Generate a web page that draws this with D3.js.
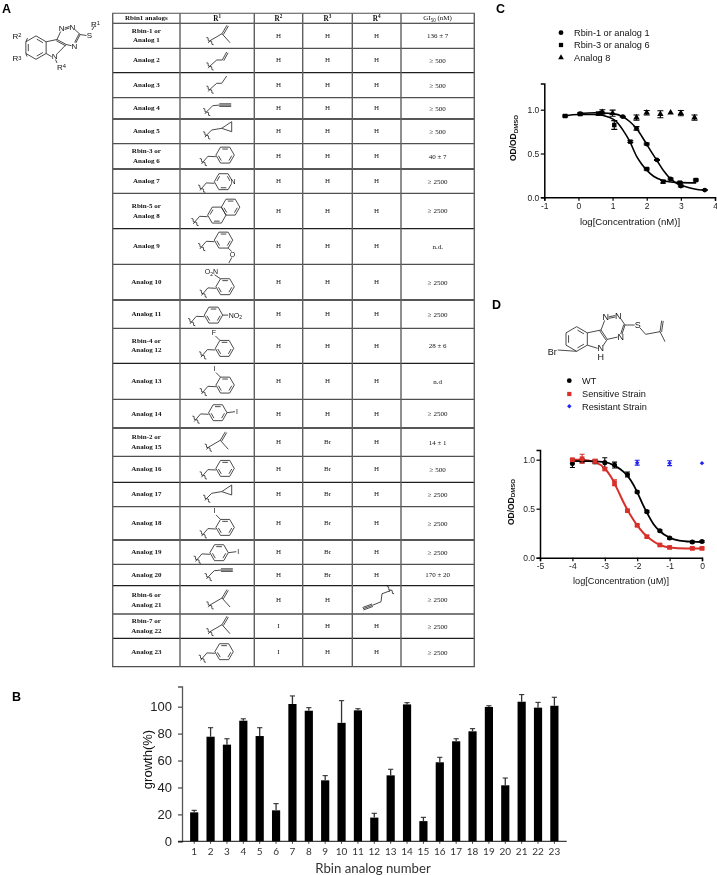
<!DOCTYPE html>
<html>
<head>
<meta charset="utf-8">
<script src="https://cdn.jsdelivr.net/npm/d3@7/dist/d3.min.js"></script>
<style>
html,body{margin:0;padding:0;background:#fff;overflow:hidden}
svg{display:block;filter:blur(0.4px)}
text{fill:#111}
</style>
</head>
<body>
<svg id="fig" width="717" height="875"></svg>
<script>
// ---------- DATA ----------
const analogNames = [["Rbin-1 or","Analog 1"],["Analog 2"],["Analog 3"],["Analog 4"],["Analog 5"],["Rbin-3 or","Analog 6"],["Analog 7"],["Rbin-5 or","Analog 8"],["Analog 9"],["Analog 10"],["Analog 11"],["Rbin-4 or","Analog 12"],["Analog 13"],["Analog 14"],["Rbin-2 or","Analog 15"],["Analog 16"],["Analog 17"],["Analog 18"],["Analog 19"],["Analog 20"],["Rbin-6 or","Analog 21"],["Rbin-7 or","Analog 22"],["Analog 23"]];
const r1Groups = ["methallyl","allyl","propyl","propargyl","cyclopropyl","benzyl","pyridyl","naphthyl","oMe3","no2ortho","no2para","fOrtho","iOrtho","iPara","methallyl","benzyl","cyclopropyl","iOrtho","iPara","propargyl","methallyl","methallyl","benzyl"];
const r2Values = ["H","H","H","H","H","H","H","H","H","H","H","H","H","H","H","H","H","H","H","H","H","I","I"];
const r3Values = ["H","H","H","H","H","H","H","H","H","H","H","H","H","H","Br","Br","Br","Br","Br","Br","H","H","H"];
const r4Values = ["H","H","H","H","H","H","H","H","H","H","H","H","H","H","H","H","H","H","H","H","propargyl","H","H"];
const gi50Values = ["136 ± 7","≥ 500","≥ 500","≥ 500","≥ 500","40 ± 7","≥ 2500","≥ 2500","n.d.","≥ 2500","≥ 2500","28 ± 6","n.d","≥ 2500","14 ± 1","≥ 500","≥ 2500","≥ 2500","≥ 2500","170 ± 20","≥ 2500","≥ 2500","≥ 2500"];

const barLabels = d3.range(1,24).map(String);
const growthValues = [21.5,77.7,71.8,89.6,78.2,23,102,97,45.3,88,97.3,17.6,49,101.7,15,58.7,74.3,81.7,99.8,41.6,103.7,99.3,100.7];
const growthErrors = [1.5,6.7,4.4,1.4,6.2,5,6,2.3,3.5,16.5,1.2,3.2,4.5,1.3,2.8,3.7,1.9,2,0.9,5.4,5.3,3.9,6.3];

const cRbin1 = [[0.05,.955,.01],[0.68,.966,.01],[1.3,.92,.005],[1.7,.787,.02],[2,.608,.01],[2.3,.426,.005],[2.7,.209,.01],[3,.129,.01],[3.7,.083,.005]];
const cRbin3 = [[-0.39,.928,.01],[0.05,.95,.01],[0.58,.955,.015],[1.05,.825,.05],[1.52,.635,.01],[2,.323,.01],[2.48,.178,.015],[2.97,.167,.01],[3.44,.197,.01]];
const cAnalog8 = [[0.7,.97,.03],[1,.96,.035],[1.7,.91,.03],[2,.965,.025],[2.4,.948,.04],[2.7,.965,0],[3,.96,.03],[3.4,.91,.03]];
const cFitRbin1 = [[0,.955],[0.5,.965],[1,.955],[1.3,.92],[1.5,.865],[1.7,.785],[1.85,.7],[2,.605],[2.15,.51],[2.3,.42],[2.5,.3],[2.7,.21],[2.9,.155],[3.1,.125],[3.4,.095],[3.7,.08]];
const cFitRbin3 = [[-0.4,.93],[0,.945],[0.5,.945],[0.9,.915],[1.1,.87],[1.3,.77],[1.5,.64],[1.7,.47],[1.85,.38],[2,.31],[2.2,.24],[2.45,.195],[2.7,.175],[3,.167],[3.45,.165]];
const cLegend = ["Rbin-1 or analog 1","Rbin-3 or analog 6","Analog 8"];

const dWT = [[-4,.96,.04],[-3.7,.99,.02],[-3.3,.98,.02],[-3,.97,.05],[-2.7,.945,.03],[-2.3,.85,.025],[-2,.67,.01],[-1.7,.47,.01],[-1.3,.275,.01],[-1,.2,.01],[-0.3,.16,.01],[0,.165,.01]];
const dSensitive = [[-4,1,.01],[-3.7,1.01,.045],[-3.3,.985,.02],[-3,.905,.01],[-2.7,.765,.03],[-2.3,.48,.01],[-2,.33,.01],[-1.7,.215,.01],[-1.3,.13,.01],[-1,.105,.01],[-0.3,.095,.01],[0,.095,.01]];
const dResistant = [[-2,.97,.025],[-1,.965,.025],[0,.965,0]];
const dFitWT = [[-4,.985],[-3.5,.985],[-3,.975],[-2.7,.94],[-2.4,.87],[-2.2,.79],[-2,.67],[-1.85,.56],[-1.7,.46],[-1.5,.345],[-1.3,.27],[-1,.205],[-0.7,.175],[-0.3,.163],[0,.16]];
const dFitSensitive = [[-4,1],[-3.7,1],[-3.3,.975],[-3,.91],[-2.8,.82],[-2.6,.69],[-2.4,.55],[-2.2,.43],[-2,.33],[-1.8,.25],[-1.6,.19],[-1.3,.13],[-1,.105],[-0.5,.095],[0,.095]];
const dLegend = ["WT","Sensitive Strain","Resistant Strain"];

// ---------- LAYOUT ----------
const SANS = "'Liberation Sans',Arial,sans-serif", SERIF = "'Liberation Serif','Times New Roman',serif";
const svg = d3.select("#fig");
function T(g,x,y,s,o={}){
  const t=g.append("text").attr("x",x).attr("y",y).attr("dy",".35em")
    .attr("font-family",o.f||SANS).attr("font-size",o.s||9).attr("text-anchor",o.a||"middle")
    .attr("font-weight",o.w||"normal");
  if(o.c) t.style("fill",o.c);
  if(o.r!=null) t.attr("transform",`rotate(${o.r} ${x} ${y})`);
  (Array.isArray(s)?s:[[s,0]]).forEach(([str,sh],i,arr)=>{
    const ts=t.append("tspan").text(str);
    const prev=i?arr[i-1][1]:0;
    if(sh!==prev) ts.attr("dy",(sh-prev)+"em");
    if(sh) ts.attr("font-size",(o.s||9)*.72);
  });
  return t;
}
T(svg,2,9,"A",{a:"start",w:"bold",s:12.5,c:"#000"});
T(svg,12,697,"B",{a:"start",w:"bold",s:12.5,c:"#000"});
T(svg,496,9,"C",{a:"start",w:"bold",s:12.5,c:"#000"});
T(svg,492,305,"D",{a:"start",w:"bold",s:12.5,c:"#000"});

// ---------- chemistry helpers ----------
const BOND="#2a2a2a";
function L(g,pts,w=.85){g.append("path").attr("d",d3.line()(pts)).attr("fill","none").attr("stroke",BOND).attr("stroke-width",w);}
function wiggle(g,x,y){
  g.append("path").attr("d",`M${x-3.6},${y-3.2}q2.4,-.2 1.8,1.8t1.8,1.8t1.8,1.8t1.8,1.8`).attr("fill","none").attr("stroke",BOND).attr("stroke-width",.85);
  L(g,[[x-1.8,y+2.2],[x,y]]);
}
function ring(g,cx,cy,r=9.2,doubles=[0,2,4],pointy=false){
  const a0=pointy?-90:0;
  const v=d3.range(6).map(i=>{const a=(a0+60*i)*Math.PI/180;return [cx+r*Math.cos(a),cy+r*Math.sin(a)];});
  d3.range(6).forEach(i=>L(g,[v[i],v[(i+1)%6]]));
  doubles.forEach(i=>{
    const p=v[i],q=v[(i+1)%6],k=.76;
    const pi=[cx+(p[0]-cx)*k,cy+(p[1]-cy)*k],qi=[cx+(q[0]-cx)*k,cy+(q[1]-cy)*k];
    const tr=(A,B,t)=>[A[0]+(B[0]-A[0])*t,A[1]+(B[1]-A[1])*t];
    L(g,[tr(pi,qi,.1),tr(pi,qi,.9)]);
  });
  return v;
}
function doubleBond(g,a,b,o=1.6){
  const dx=b[0]-a[0],dy=b[1]-a[1],l=Math.hypot(dx,dy),nx=-dy/l*o,ny=dx/l*o;
  L(g,[a,b]);L(g,[[a[0]+nx,a[1]+ny],[b[0]+nx,b[1]+ny]]);
}
function tripleBond(g,a,b,o=1.3){
  const dx=b[0]-a[0],dy=b[1]-a[1],l=Math.hypot(dx,dy),nx=-dy/l*o,ny=dx/l*o;
  L(g,[a,b]);L(g,[[a[0]+nx,a[1]+ny],[b[0]+nx,b[1]+ny]]);L(g,[[a[0]-nx,a[1]-ny],[b[0]-nx,b[1]-ny]]);
}
const R=9.2;
function benzylBase(g,x,y){
  wiggle(g,x,y);
  const P1=[x+4.6,y-5.4],P2=[x+12.6,y-5];
  L(g,[[x,y],P1,P2]);
  return [P2[0]+R,P2[1]-1.6];
}
const drawGroup={
  methallyl(g,x,y){wiggle(g,x,y);const c=[x+12,y-7];L(g,[[x,y],c]);doubleBond(g,c,[x+17,y-15.5]);L(g,[c,[x+20,y+2]]);},
  allyl(g,x,y){wiggle(g,x,y);const a=[x+6.7,y-6],b=[x+12.3,y-6];L(g,[[x,y],a,b]);doubleBond(g,b,[x+16.7,y-14]);},
  propyl(g,x,y){wiggle(g,x,y);L(g,[[x,y],[x+6.7,y-6],[x+11.7,y-6],[x+16.7,y-13.3]]);},
  propargyl(g,x,y){wiggle(g,x,y);const a=[x+6,y-6],b=[x+12.6,y-6.6];L(g,[[x,y],a,b]);tripleBond(g,b,[x+24.5,y-6.6]);},
  cyclopropyl(g,x,y){wiggle(g,x,y);const a=[x+5,y-5],b=[x+15,y-6.7],c=[x+25,y-13.3],d=[x+25,y-3.3];L(g,[[x,y],a,b]);L(g,[b,c,d,b]);},
  benzyl(g,x,y){const [cx,cy]=benzylBase(g,x,y);ring(g,cx,cy);},
  pyridyl(g,x,y){const [cx,cy]=benzylBase(g,x,y);ring(g,cx,cy,R,[1,3,5]);
    g.append("circle").attr("cx",cx+R).attr("cy",cy).attr("r",2.6).attr("fill","#fff");T(g,cx+R+.3,cy,"N",{s:7});},
  naphthyl(g,x,y){const [cx,cy]=benzylBase(g,x,y);ring(g,cx,cy,R,[1,3]);ring(g,cx+1.5*R,cy-.866*R,R,[0,2,4]);},
  oMe3(g,x,y){const [cx,cy]=benzylBase(g,x,y);const v=ring(g,cx,cy);
    const o=[v[1][0]+4.4,v[1][1]+6.4];L(g,[v[1],[o[0]-.8,o[1]-3]]);T(g,o[0],o[1],"O",{s:7});L(g,[[o[0]-.7,o[1]+3],[o[0]-3.6,o[1]+8.4]]);},
  no2ortho(g,x,y){const [cx,cy]=benzylBase(g,x,y);const v=ring(g,cx,cy);L(g,[v[4],[v[4][0]-6,v[4][1]-4]]);
    T(g,v[4][0]-9,v[4][1]-7,[["O",0],["2",.3],["N",0]],{s:7});},
  no2para(g,x,y){const [cx,cy]=benzylBase(g,x,y);const v=ring(g,cx,cy);L(g,[v[0],[v[0][0]+5.5,v[0][1]]]);
    T(g,v[0][0]+6,v[0][1],[["NO",0],["2",.3]],{s:7,a:"start"});},
  fOrtho(g,x,y){const [cx,cy]=benzylBase(g,x,y);const v=ring(g,cx,cy);L(g,[v[4],[v[4][0]-4.5,v[4][1]-4.5]]);T(g,v[4][0]-6,v[4][1]-8,"F",{s:7});},
  iOrtho(g,x,y){const [cx,cy]=benzylBase(g,x,y);const v=ring(g,cx,cy);L(g,[v[4],[v[4][0]-4.5,v[4][1]-4.5]]);T(g,v[4][0]-6,v[4][1]-9,"I",{s:7});},
  iPara(g,x,y){const [cx,cy]=benzylBase(g,x,y);const v=ring(g,cx,cy);L(g,[v[0],[v[0][0]+8,v[0][1]-1]]);T(g,v[0][0]+10,v[0][1]-1,"I",{s:7});}
};

// ---------- scaffold, panel A ----------
(function(){
  const g=svg.append("g");
  const c=[36,47.6],r=11.7,v=ring(g,c[0],c[1],r,[0,2,4],true);
  const tr=v[1],br=v[2];
  const a=[57,39.5],d=[66.2,44.5],n1=[61.7,28.5],n2=[72.5,27],c3=[80.2,34.5],n4=[74.5,46],N=[54.6,56.5];
  L(g,[tr,a]);doubleBond(g,a,d,1.4);
  L(g,[a,[n1[0]-1,n1[1]+3]]);L(g,[[n1[0]+3,n1[1]-.5],[n2[0]-3,n2[1]-.5]]);L(g,[[n1[0]+3,n1[1]+1],[n2[0]-3,n2[1]+1]]);
  L(g,[[n2[0]+2.4,n2[1]+2.6],c3]);doubleBond(g,c3,[n4[0]+1.3,n4[1]-3],1.3);
  L(g,[[n4[0]-3,n4[1]-.3],d]);
  L(g,[br,[N[0]-3,N[1]+.2]]);L(g,[[N[0]+2.4,N[1]-2.6],d]);
  L(g,[c3,[86.5,35.5]]);L(g,[[92,30],[94.5,26]]);
  L(g,[v[5],[27.5,38]]);L(g,[v[4],[27,56.5]]);L(g,[[55.5,59.5],[57,63]]);
  const s=8;
  T(g,n1[0],n1[1],"N",{s});T(g,n2[0],n2[1],"N",{s});T(g,n4[0],n4[1],"N",{s});T(g,N[0],N[1],"N",{s});
  T(g,89.5,35,"S",{s});
  T(g,95.5,24,[["R",0],["1",-.3]],{s});
  T(g,17,36,[["R",0],["2",-.3]],{s});
  T(g,17,58.5,[["R",0],["3",-.3]],{s});
  T(g,61.5,67,[["R",0],["4",-.3]],{s});
})();

// ---------- table ----------
const colEdges=[112.7,180,254.3,302.7,352.3,401,474.3];
const rowEdges=[13.3,23.3,48.3,72.7,97.7,119,143.7,169,193.3,228.7,264.3,300,328.3,363.3,399.3,428,456.3,482.3,506.7,540,564.3,585.7,614,638.3,666.7];
const r1Anchors=[[210,40.7],[210,66],[210,89.3],[206.7,111.7],[206.7,135],[203.3,161.7],[201.7,188.3],[195,221.7],[201.7,246.7],[203.3,293.3],[191.7,321.7],[202.7,355],[203.3,391.7],[196,419.3],[208.3,447.3],[203.3,475],[206.7,498.3],[203.3,534],[197.3,559.3],[208.3,576.7],[210,605],[210,631.7],[202.3,658.3]];
const tbl=svg.append("g");
const colMid=i=>(colEdges[i]+colEdges[i+1])/2;
const rowMid=i=>(rowEdges[i+1]+rowEdges[i+2])/2-.6;
rowEdges.forEach((y,i)=>tbl.append("line").attr("x1",colEdges[0]-.7).attr("x2",colEdges[6]+.7).attr("y1",y).attr("y2",y).attr("stroke",i%2?"#1f1f1f":"#505050").attr("stroke-width",i<2?1.1:1.3));
colEdges.forEach((x,i)=>tbl.append("line").attr("x1",x).attr("x2",x).attr("y1",rowEdges[0]).attr("y2",rowEdges[24]).attr("stroke","#5f5f5f").attr("stroke-width",1.4));
const hy=18;
T(tbl,colMid(0),hy,"Rbin1 analogs",{f:SERIF,s:7,w:"bold"});
["R","R","R","R"].forEach((h,i)=>T(tbl,colMid(i+1),hy,[[h,0],[String(i+1),-.4]],{f:SERIF,s:7.2,w:"bold"}));
T(tbl,colMid(5),hy,[["GI",0],["50",.3],[" (nM)",0]],{f:SERIF,s:7});
analogNames.forEach((n,i)=>{
  const m=rowMid(i);
  n.forEach((s,j)=>T(tbl,colMid(0),m+(j-(n.length-1)/2)*9.6,s,{f:SERIF,s:7,w:"bold"}));
  drawGroup[r1Groups[i]](tbl,r1Anchors[i][0],r1Anchors[i][1]);
  T(tbl,colMid(2),m,r2Values[i],{f:SERIF,s:7});
  T(tbl,colMid(3),m,r3Values[i],{f:SERIF,s:7});
  if(r4Values[i]==="H") T(tbl,colMid(4),m,"H",{f:SERIF,s:7});
  T(tbl,colMid(5),m+.5,gi50Values[i],{f:SERIF,s:7});
});
// R4 propargyl drawn pointing left, row 21
(function(){
  const i=r4Values.indexOf("propargyl");
  const m=rowMid(i),g=tbl,x=390,y=m-8.5;
  L(g,[[x,y],[x-8,y+3],[x-9,y+11],[x-17.5,y+14.5]]);
  tripleBond(g,[x-17.5,y+14.5],[x-27,y+18]);
  wiggle(g,x+.5,y-1);
})();

// ---------- panel B ----------
const xB=d3.scaleBand().domain(barLabels).range([181.93,566.67]).padding(.5);
const yB=d3.scaleLinear().domain([0,100]).range([841.3,706.7]);
const gB=svg.append("g");
gB.selectAll("rect").data(barLabels).join("rect")
  .attr("x",d=>xB(d)).attr("width",xB.bandwidth())
  .attr("y",(d,i)=>yB(growthValues[i])).attr("height",(d,i)=>yB(0)-yB(growthValues[i]))
  .attr("fill","#000");
barLabels.forEach((d,i)=>{
  const x=xB(d)+xB.bandwidth()/2,yt=yB(growthValues[i]+growthErrors[i]);
  gB.append("line").attr("x1",x).attr("x2",x).attr("y1",yB(growthValues[i])).attr("y2",yt).attr("stroke","#333").attr("stroke-width",1.3);
  gB.append("line").attr("x1",x-2.6).attr("x2",x+2.6).attr("y1",yt).attr("y2",yt).attr("stroke","#333").attr("stroke-width",1.1);
});
const axB=gB.append("g").attr("transform","translate(182,0)")
  .call(d3.axisLeft(yB.copy().domain([0,115]).range([841.3,686.5])).tickValues([0,20,40,60,80,100]).tickSize(4).tickPadding(6));
axB.selectAll("text").attr("font-family",SANS).attr("font-size",13).style("fill","#222");
axB.selectAll("path,line").attr("stroke","#555").attr("stroke-width",1.3);
const axBx=gB.append("g").attr("transform","translate(0,841.3)")
  .call(d3.axisBottom(xB).tickSize(2.5).tickPadding(4.5));
axBx.select("path").attr("d","M178,0H566.7").attr("stroke","#111").attr("stroke-width",1);
axBx.selectAll("line").attr("stroke","#111").attr("stroke-width",.8);
axBx.selectAll("text").attr("font-family","Lato,sans-serif").attr("font-size",10).style("fill","#333");
T(gB,147,759.5,"growth(%)",{s:13,r:-90});
T(gB,373,868,"Rbin analog number",{f:"Lato,sans-serif",s:13.2,c:"#333"});

// ---------- dose-response helper ----------
function axes(g,x,y,xTicks,yTicks){
  const ax=g.append("g").attr("transform",`translate(0,${y.range()[0]})`).call(d3.axisBottom(x).tickValues(xTicks).tickFormat(d3.format("d")).tickSize(3.5).tickPadding(2));
  const ay=g.append("g").attr("transform",`translate(${x.range()[0]},0)`).call(d3.axisLeft(y).tickValues(yTicks).tickFormat(d3.format(".1f")).tickSize(3.5).tickPadding(1.5));
  [ax,ay].forEach(a=>{
    a.selectAll("path").attr("stroke","#000").attr("stroke-width",1.5);
    a.selectAll("line").attr("stroke","#000").attr("stroke-width",1.2);
    a.selectAll("text").attr("font-family",SANS).attr("font-size",8.5).style("fill","#222");
  });
  ax.selectAll("text").text(d=>String(d));
}
function series(g,x,y,pts,sym,size,col,capW=6,rot=0){
  pts.forEach(([px,py,e])=>{
    if(e>0){
      const X=x(px),a=y(py+e),b=y(py-e);
      g.append("path").attr("d",`M${X-capW/2},${a}H${X+capW/2}M${X},${a}V${b}M${X-capW/2},${b}H${X+capW/2}`).attr("fill","none").attr("stroke",col).attr("stroke-width",1.1);
    }
  });
  g.selectAll(null).data(pts).join("path")
    .attr("d",d3.symbol().type(sym).size(size))
    .attr("transform",d=>`translate(${x(d[0])},${y(d[1])}) rotate(${rot})`).attr("fill",col);
}
function fit(g,x,y,pts,col,w=1.6){
  g.append("path").datum(pts).attr("fill","none").attr("stroke",col).attr("stroke-width",w)
   .attr("d",d3.line().x(d=>x(d[0])).y(d=>y(d[1])).curve(d3.curveMonotoneX));
}

// ---------- panel C ----------
const xC=d3.scaleLinear().domain([-1,4]).range([544.3,715]);
const yC=d3.scaleLinear().domain([0,1.3]).range([197.3,83.4]);
const gC=svg.append("g");
axes(gC,xC,yC,[-1,0,1,2,3,4],[0,.5,1]);
fit(gC,xC,yC,cFitRbin1,"#000");fit(gC,xC,yC,cFitRbin3,"#000");
series(gC,xC,yC,cAnalog8,d3.symbolTriangle,18,"#000");
series(gC,xC,yC,cRbin3,d3.symbolSquare,20,"#000");
series(gC,xC,yC,cRbin1,d3.symbolCircle,18,"#000");
T(gC,513,138,[["OD/OD",0],["DMSO",.3]],{s:8.5,w:"bold",r:-90});
T(gC,630,222,"log[Concentration (nM)]",{s:9.6});
const symC=[d3.symbolCircle,d3.symbolSquare,d3.symbolTriangle],legYC=[32.7,45,57.5];
cLegend.forEach((s,i)=>{
  gC.append("path").attr("d",d3.symbol().type(symC[i]).size(i==2?14:18)).attr("transform",`translate(561,${legYC[i]})`).attr("fill","#000");
  T(gC,574,legYC[i],s,{a:"start",s:9.2});
});

// ---------- panel D ----------
const xD=d3.scaleLinear().domain([-5,0]).range([540,702]);
const yD=d3.scaleLinear().domain([0,1.1]).range([557.7,449.9]);
const gD=svg.append("g");
axes(gD,xD,yD,[-5,-4,-3,-2,-1,0],[0,.5,1]);
const RED="#d8302a",BLUE="#2222ee";
fit(gD,xD,yD,dFitSensitive,RED,2);fit(gD,xD,yD,dFitWT,"#000",1.8);
series(gD,xD,yD,dWT,d3.symbolCircle,20,"#000",5);
series(gD,xD,yD,dSensitive,d3.symbolSquare,22,RED,5);
series(gD,xD,yD,dResistant,d3.symbolSquare,10,BLUE,5,45);
T(gD,510.7,502,[["OD/OD",0],["DMSO",.3]],{s:8.5,w:"bold",r:-90});
T(gD,621,581,"log[Concentration (uM)]",{s:9.2});
const symD=[d3.symbolCircle,d3.symbolSquare,d3.symbolSquare],colD=["#000",RED,BLUE],legYD=[380.7,394,406.3];
dLegend.forEach((s,i)=>{
  gD.append("path").attr("d",d3.symbol().type(symD[i]).size(i==2?10:18)).attr("transform",`translate(569.3,${legYD[i]}) rotate(${i==2?45:0})`).attr("fill",colD[i]);
  T(gD,582,legYD[i],s,{a:"start",s:9.2});
});
// scaffold, panel D
(function(){
  const g=svg.append("g");
  const ox=490,oy=300,z=p=>[ox+p[0]/3,oy+p[1]/3];
  const c=z([260,117]),v=ring(g,c[0],c[1],12.3,[0,2,4],true);
  const a=z([333,90]),d=z([352,118]),n1=z([347,52]),n2=z([385,48]),c3=z([405,75]),n4=z([392,112]),N=z([332,145]);
  L(g,[v[1],a]);doubleBond(g,a,d,1.5);
  L(g,[a,[n1[0]-1,n1[1]+3]]);L(g,[[n1[0]+3,n1[1]-.5],[n2[0]-3,n2[1]-.5]]);L(g,[[n1[0]+3,n1[1]+1],[n2[0]-3,n2[1]+1]]);
  L(g,[[n2[0]+2.4,n2[1]+2.6],c3]);doubleBond(g,c3,[n4[0]+1.3,n4[1]-3],1.3);
  L(g,[[n4[0]-3,n4[1]-.3],d]);
  L(g,[v[2],[N[0]-3,N[1]]]);L(g,[[N[0]+2.4,N[1]-2.6],d]);
  L(g,[v[3],z([203,150])]);
  const S=z([443,75]),ch=z([467,103]),q=z([510,95]);
  L(g,[c3,[S[0]-3,S[1]]]);L(g,[[S[0]+2.2,S[1]+2.8],ch,q]);doubleBond(g,q,z([515,62]));L(g,[q,z([525,125])]);
  const s=9;
  T(g,n1[0],n1[1],"N",{s});T(g,n2[0],n2[1],"N",{s});T(g,n4[0],n4[1],"N",{s});T(g,N[0],N[1],"N",{s});
  T(g,S[0],S[1],"S",{s});
  const H=z([332,170]);T(g,H[0],H[1],"H",{s});
  const B=z([187,155]);T(g,B[0],B[1],"Br",{s});
})();
</script>
</body>
</html>
